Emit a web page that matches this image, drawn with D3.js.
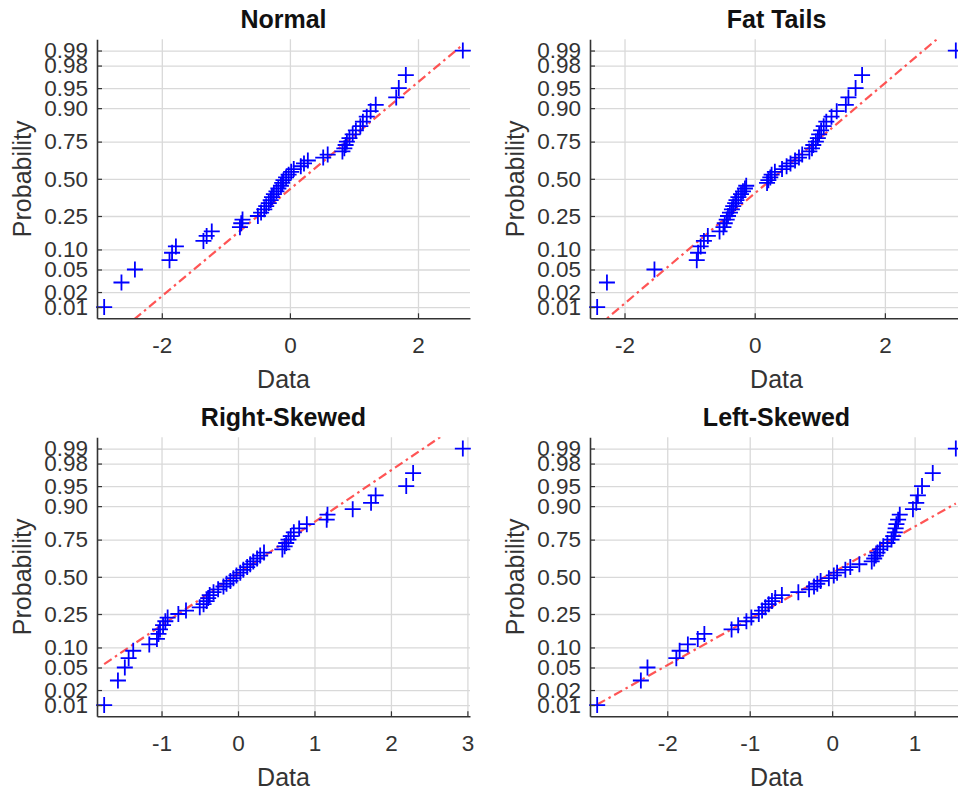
<!DOCTYPE html>
<html><head><meta charset="utf-8">
<script src="https://cdn.jsdelivr.net/npm/d3@7"></script>
<style>
body{margin:0;background:#fff}
svg{display:block}
</style>
</head><body><svg id="chart" width="958" height="791"></svg>
<script>
// ---------- data (sorted samples, 50 per panel) ----------
const panelTitles = ["Normal", "Fat Tails", "Right-Skewed", "Left-Skewed"];
const normalData = [-2.90,-2.63,-2.42,-1.88,-1.84,-1.78,-1.35,-1.30,-1.22,-0.78,
  -0.76,-0.74,-0.50,-0.45,-0.40,-0.37,-0.33,-0.30,-0.28,-0.25,
  -0.21,-0.18,-0.14,-0.12,-0.10,-0.06,-0.02,0.02,0.06,0.17,
  0.22,0.28,0.52,0.59,0.82,0.85,0.87,0.89,0.93,0.98,
  1.03,1.10,1.14,1.20,1.26,1.34,1.66,1.70,1.81,2.70];
const fatTailsData = [-2.42,-2.27,-1.54,-0.89,-0.87,-0.83,-0.78,-0.72,-0.54,-0.48,
  -0.46,-0.43,-0.41,-0.38,-0.35,-0.33,-0.30,-0.28,-0.25,-0.21,
  -0.18,-0.15,-0.13,0.19,0.21,0.24,0.26,0.31,0.42,0.49,
  0.55,0.62,0.68,0.73,0.84,0.88,0.90,0.94,0.97,0.99,
  1.02,1.06,1.10,1.18,1.26,1.40,1.44,1.55,1.65,3.09];
const rightSkewedData = [-1.75,-1.57,-1.48,-1.43,-1.37,-1.16,-1.06,-1.04,-1.02,-0.98,
  -0.95,-0.92,-0.78,-0.68,-0.50,-0.45,-0.41,-0.39,-0.37,-0.32,
  -0.26,-0.19,-0.15,-0.10,-0.06,-0.02,0.03,0.07,0.12,0.16,
  0.20,0.25,0.29,0.34,0.58,0.61,0.63,0.66,0.69,0.73,
  0.80,0.90,1.16,1.17,1.50,1.74,1.80,2.20,2.29,2.94];
const leftSkewedData = [-2.85,-2.32,-2.24,-1.89,-1.85,-1.75,-1.63,-1.55,-1.22,-1.14,
  -1.04,-0.98,-0.89,-0.85,-0.81,-0.77,-0.73,-0.69,-0.61,-0.41,
  -0.28,-0.22,-0.18,-0.14,-0.04,0.02,0.06,0.16,0.22,0.33,
  0.48,0.51,0.53,0.55,0.58,0.62,0.67,0.72,0.74,0.76,
  0.77,0.78,0.80,0.82,0.98,1.02,1.04,1.09,1.22,1.50];
const probTicks = [0.01, 0.02, 0.05, 0.10, 0.25, 0.50, 0.75, 0.90, 0.95, 0.98, 0.99];
const probTickLabels = ["0.01","0.02","0.05","0.10","0.25","0.50","0.75","0.90","0.95","0.98","0.99"];
const xTicksNormal = [-2, 0, 2];
const xTicksFat = [-2, 0, 2];
const xTicksRight = [-1, 0, 1, 2, 3];
const xTicksLeft = [-2, -1, 0, 1];
const xAxisLabel = "Data";
const yAxisLabel = "Probability";

// inverse standard normal CDF (Acklam)
function norminv(p){
  const a=[-3.969683028665376e+01,2.209460984245205e+02,-2.759285104469687e+02,1.383577518672690e+02,-3.066479806614716e+01,2.506628277459239e+00];
  const b=[-5.447609879822406e+01,1.615858368580409e+02,-1.556989798598866e+02,6.680131188771972e+01,-1.328068155288572e+01];
  const c=[-7.784894002430293e-03,-3.223964580411365e-01,-2.400758277161838e+00,-2.549732539343734e+00,4.374664141464968e+00,2.938163982698783e+00];
  const d=[7.784695709041462e-03,3.224671290700398e-01,2.445134137142996e+00,3.754408661907416e+00];
  const pl=0.02425, ph=1-pl; let q,r;
  if(p<pl){q=Math.sqrt(-2*Math.log(p));return (((((c[0]*q+c[1])*q+c[2])*q+c[3])*q+c[4])*q+c[5])/((((d[0]*q+d[1])*q+d[2])*q+d[3])*q+1);}
  if(p>ph){q=Math.sqrt(-2*Math.log(1-p));return -(((((c[0]*q+c[1])*q+c[2])*q+c[3])*q+c[4])*q+c[5])/((((d[0]*q+d[1])*q+d[2])*q+d[3])*q+1);}
  q=p-0.5;r=q*q;return (((((a[0]*r+a[1])*r+a[2])*r+a[3])*r+a[4])*r+a[5])*q/(((((b[0]*r+b[1])*r+b[2])*r+b[3])*r+b[4])*r+1);
}

const svg = d3.select("#chart");
const FONT = "'Liberation Sans', Arial, Helvetica, sans-serif";
const TXT = "#333333";
const W = 373, H = 279, yLim = 2.53;
const panels = [
  {title: panelTitles[0], data: normalData,      xticks: xTicksNormal, left: 97,  top: 39.3},
  {title: panelTitles[1], data: fatTailsData,    xticks: xTicksFat,    left: 590, top: 39.3},
  {title: panelTitles[2], data: rightSkewedData, xticks: xTicksRight,  left: 97,  top: 437.3},
  {title: panelTitles[3], data: leftSkewedData,  xticks: xTicksLeft,   left: 590, top: 437.3}
];

panels.forEach((p, k) => {
  const g = svg.append("g").attr("transform", `translate(${p.left},${p.top})`);
  const sorted = p.data.slice().sort(d3.ascending);
  const n = sorted.length;
  const mn = sorted[0], mx = sorted[n-1], pad = 0.02*(mx-mn);
  const x = d3.scaleLinear().domain([mn-pad, mx+pad]).range([0, W]);
  const y = d3.scaleLinear().domain([-yLim, yLim]).range([H, 0]);

  // grid
  g.append("g").call(d3.axisBottom(x).tickValues(p.xticks).tickSize(-H).tickFormat(""))
    .attr("transform", `translate(0,${H})`)
    .call(s => s.select(".domain").remove())
    .call(s => s.selectAll("line").attr("stroke", "#d9d9d9").attr("stroke-width", 1.3));
  g.append("g").call(d3.axisLeft(y).tickValues(probTicks.map(norminv)).tickSize(-W).tickFormat(""))
    .call(s => s.select(".domain").remove())
    .call(s => s.selectAll("line").attr("stroke", "#d9d9d9").attr("stroke-width", 1.3));

  // clip
  const cid = "clip" + k;
  g.append("clipPath").attr("id", cid).append("rect").attr("width", W).attr("height", H);

  // reference line through quartiles (MATLAB prctile: 13th and 38th of 50)
  const q1 = sorted[Math.round(0.25*n + 0.5) - 1], q3 = sorted[Math.round(0.75*n + 0.5) - 1];
  const z1 = norminv(0.25), z3 = norminv(0.75);
  const slope = (z3 - z1)/(q3 - q1);
  const lineZ = v => z1 + slope*(v - q1);
  g.append("line").attr("clip-path", `url(#${cid})`)
    .attr("x1", x(mn)).attr("y1", y(lineZ(mn)))
    .attr("x2", x(mx)).attr("y2", y(lineZ(mx)))
    .attr("stroke", "#ff2a2a").attr("stroke-opacity", 0.8).attr("stroke-width", 2.2)
    .attr("stroke-dasharray", "9,4,2.5,4");

  // markers
  g.selectAll(".pt").data(sorted).join("path")
    .attr("transform", (d, i) => `translate(${x(d)},${y(norminv((i + 0.5)/n))})`)
    .attr("d", "M-8,0H8M0,-8V8")
    .attr("stroke", "#0000ff").attr("stroke-width", 1.8).attr("fill", "none");

  // axes
  const ax = g.append("g").attr("transform", `translate(0,${H})`)
    .call(d3.axisBottom(x).tickValues(p.xticks).tickSize(-5).tickSizeOuter(0).tickPadding(14)
      .tickFormat(d => d3.format("d")(d).replace("−", "-")));
  const ay = g.append("g")
    .call(d3.axisLeft(y).tickValues(probTicks.map(norminv)).tickSize(-5).tickSizeOuter(0).tickPadding(9)
      .tickFormat((d, i) => probTickLabels[i]));
  [ax, ay].forEach(a => {
    a.attr("font-family", FONT).attr("font-size", 22.5);
    a.select(".domain").attr("stroke", "#333").attr("stroke-width", 1.6);
    a.selectAll(".tick line").attr("stroke", "#333").attr("stroke-width", 1.2);
    a.selectAll("text").attr("fill", TXT);
  });
  ax.selectAll("text").attr("dy", null).attr("y", 35).attr("dominant-baseline", "auto");

  // title & labels
  g.append("text").attr("x", W/2).attr("y", -11).attr("text-anchor", "middle")
    .attr("font-family", FONT).attr("font-size", 25).attr("font-weight", "bold").attr("fill", "#111")
    .text(p.title);
  g.append("text").attr("x", W/2).attr("y", H + 70).attr("text-anchor", "middle")
    .attr("font-family", FONT).attr("font-size", 25).attr("fill", TXT).text(xAxisLabel);
  g.append("text").attr("transform", `translate(${31 - p.left + (p.left > 300 ? 493 : 0)},${H/2}) rotate(-90)`)
    .attr("text-anchor", "middle").attr("font-family", FONT).attr("font-size", 25).attr("fill", TXT)
    .text(yAxisLabel);
});
</script>
</body></html>
